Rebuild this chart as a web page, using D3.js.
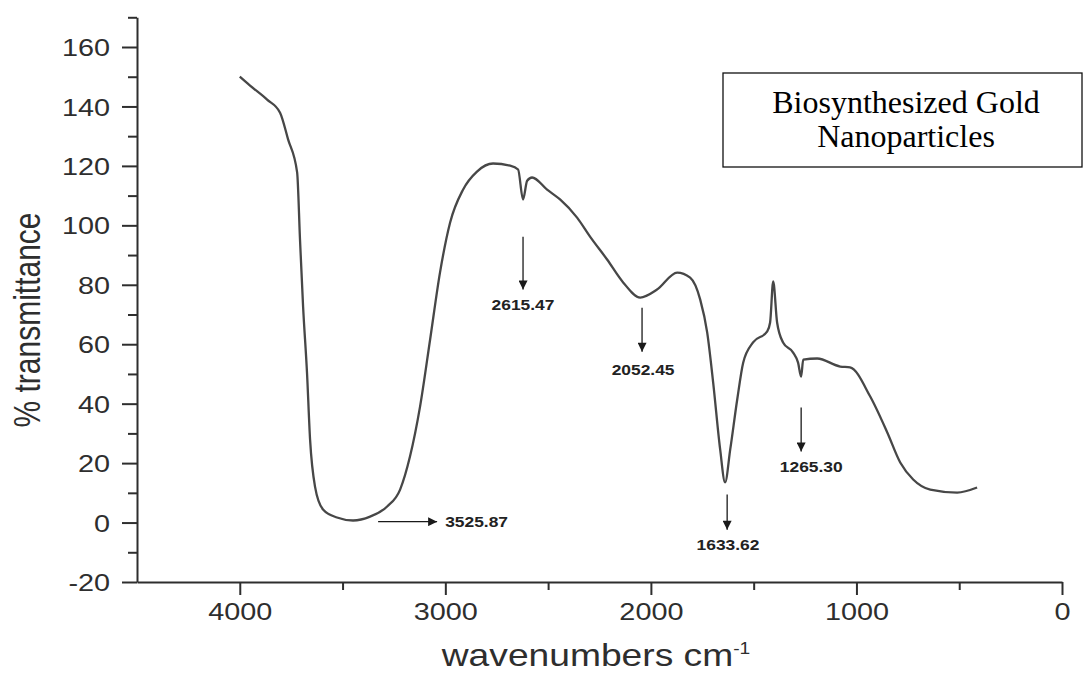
<!DOCTYPE html>
<html>
<head>
<meta charset="utf-8">
<script src="https://cdn.jsdelivr.net/npm/d3@7"></script>
<style>
  html, body { margin: 0; padding: 0; background: #fff; }
  svg { display: block; }
</style>
</head>
<body>
<svg id="chart" width="1086" height="673"></svg>
<script>
// ---- data ----
const wavenumbers = [4000, 3950, 3867, 3804, 3765, 3721, 3707, 3692, 3673, 3658, 3634, 3595, 3527, 3449, 3366, 3283, 3220, 3172, 3123, 3074, 3026, 2977, 2914, 2846, 2768, 2685, 2646, 2622, 2602, 2578, 2505, 2442, 2359, 2296, 2213, 2135, 2052, 1970, 1872, 1809, 1760, 1726, 1697, 1663, 1639, 1614, 1580, 1551, 1503, 1434, 1420, 1405, 1386, 1357, 1308, 1284, 1269, 1259, 1191, 1079, 1031, 933, 850, 787, 724, 641, 510, 413];
const transmittance = [150, 147, 142.3, 137.9, 128.9, 117.8, 95.2, 72.7, 50.5, 27.9, 12.1, 4.4, 1.7, 0.7, 2.0, 5.4, 11.1, 22.2, 39.0, 61.6, 84.1, 100.9, 112.0, 118.1, 120.8, 120.1, 118.8, 108.7, 115.0, 116.1, 112.0, 108.7, 102.6, 96.2, 88.5, 80.8, 75.7, 78.4, 84.1, 82.4, 75.0, 63.9, 47.1, 24.6, 13.5, 24.6, 41.4, 53.8, 60.6, 64.3, 67.3, 81.1, 67.3, 60.6, 57.2, 53.8, 49.1, 54.8, 55.2, 52.5, 52.2, 42.4, 30.3, 20.2, 14.5, 11.1, 10.1, 11.8];

const xMajorTicks = [4000, 3000, 2000, 1000, 0];
const xMinorTicks = [3500, 2500, 1500, 500];
const yMajorTicks = [-20, 0, 20, 40, 60, 80, 100, 120, 140, 160];
const yMinorTicks = [-10, 10, 30, 50, 70, 90, 110, 130, 150, 170];

// peak annotations (data units): label, arrow start/end, label anchor
const peakLabels = ["3525.87", "2615.47", "2052.45", "1633.62", "1265.30"];
const arrowX1 = [3327, 2622, 2043, 1629, 1269];
const arrowY1 = [0.3, 96.2, 72.3, 9.4, 38.7];
const arrowX2 = [3040, 2622, 2043, 1629, 1269];
const arrowY2 = [0.3, 78.4, 57.5, -2.4, 23.9];
const labelX = [3001, 2622, 2038, 1625, 1220];
const labelY = [0.3, 73.4, 51.5, -7.4, 18.8];
const labelAnchor = ["start", "middle", "middle", "middle", "middle"];

const legendLines = ["Biosynthesized Gold", "Nanoparticles"];
const xTitle = "wavenumbers cm";
const xTitleSup = "-1";
const yTitle = "% transmittance";

// ---- layout ----
const STRETCH = 1.2;
const svg = d3.select("#chart");
const x = d3.scaleLinear().domain([4500, 0]).range([137, 1062]);
const y = d3.scaleLinear().domain([-20, 170]).range([582, 582 - 190 * 2.9722]);
const axisColor = "#2e2e2e";
const sans = "'Liberation Sans', Arial, sans-serif";
const fmt = d => String(d);

// x axis
const gx = svg.append("g").attr("transform", `translate(0,${y(-20)})`);
gx.call(d3.axisBottom(x).tickValues(xMajorTicks).tickSize(13).tickSizeOuter(0).tickFormat(fmt));
gx.append("g").call(d3.axisBottom(x).tickValues(xMinorTicks).tickSize(8).tickSizeOuter(0).tickFormat(""))
  .select(".domain").remove();

// y axis
const gy = svg.append("g").attr("transform", `translate(${x(4500)},0)`);
gy.call(d3.axisLeft(y).tickValues(yMajorTicks).tickSize(15).tickSizeOuter(0).tickFormat(fmt));
gy.append("g").call(d3.axisLeft(y).tickValues(yMinorTicks).tickSize(9).tickSizeOuter(0).tickFormat(""))
  .select(".domain").remove();

svg.selectAll(".domain, .tick line").attr("stroke", axisColor).attr("stroke-width", 2);

gx.selectAll(".tick text")
  .attr("x", 0).attr("y", 0).attr("dy", null)
  .attr("transform", `translate(0,38) scale(${STRETCH},1)`)
  .attr("text-anchor", "middle")
  .attr("fill", axisColor)
  .style("font-family", sans).style("font-size", "24px");

gy.selectAll(".tick text")
  .attr("x", 0).attr("dy", "0.36em")
  .attr("transform", `translate(-27,0) scale(${STRETCH},1)`)
  .attr("text-anchor", "end")
  .attr("fill", axisColor)
  .style("font-family", sans).style("font-size", "24px");

// axis titles
const xt = svg.append("text")
  .attr("transform", `translate(596,666) scale(${STRETCH},1)`)
  .attr("text-anchor", "middle")
  .attr("fill", axisColor)
  .style("font-family", sans).style("font-size", "31px");
xt.append("tspan").text(xTitle);
xt.append("tspan").attr("dy", "-0.75em").style("font-size", "16px").text(xTitleSup);

svg.append("text")
  .attr("transform", `translate(40,320) rotate(-90) scale(1,${STRETCH})`)
  .attr("text-anchor", "middle")
  .attr("fill", axisColor)
  .style("font-family", sans).style("font-size", "30px")
  .text(yTitle);

// spectrum line
const pts = wavenumbers.map((w, i) => [w, transmittance[i]]);
svg.append("path")
  .datum(pts)
  .attr("fill", "none")
  .attr("stroke", "#474747")
  .attr("stroke-width", 2.3)
  .attr("stroke-linejoin", "round")
  .attr("d", d3.line().x(d => x(d[0])).y(d => y(d[1])).curve(d3.curveMonotoneX));

// annotations
svg.append("defs").append("marker")
  .attr("id", "ah").attr("viewBox", "0 0 10 10")
  .attr("refX", 10).attr("refY", 5)
  .attr("markerWidth", 11).attr("markerHeight", 9)
  .attr("markerUnits", "userSpaceOnUse")
  .attr("orient", "auto")
  .append("path").attr("d", "M0,0 L10,5 L0,10 Z").attr("fill", "#1a1a1a");

const ann = svg.append("g");
peakLabels.forEach((lab, i) => {
  ann.append("line")
    .attr("x1", x(arrowX1[i])).attr("y1", y(arrowY1[i]))
    .attr("x2", x(arrowX2[i])).attr("y2", y(arrowY2[i]))
    .attr("stroke", "#1a1a1a").attr("stroke-width", 1.3)
    .attr("marker-end", "url(#ah)");
  ann.append("text")
    .attr("transform", `translate(${x(labelX[i])},${y(labelY[i])}) scale(${STRETCH},1)`)
    .attr("dy", "0.36em")
    .attr("text-anchor", labelAnchor[i])
    .attr("fill", "#222")
    .style("font-family", sans).style("font-weight", "bold").style("font-size", "14.5px")
    .text(lab);
});

// legend box
svg.append("rect")
  .attr("x", 723).attr("y", 73).attr("width", 359).attr("height", 94)
  .attr("fill", "#fff").attr("stroke", "#111").attr("stroke-width", 1.3);
legendLines.forEach((t, i) => {
  svg.append("text")
    .attr("x", 906).attr("y", 113 + i * 34)
    .attr("text-anchor", "middle")
    .attr("fill", "#000")
    .style("font-family", "'Liberation Serif', 'Times New Roman', serif")
    .style("font-size", "32px")
    .text(t);
});
</script>
</body>
</html>
